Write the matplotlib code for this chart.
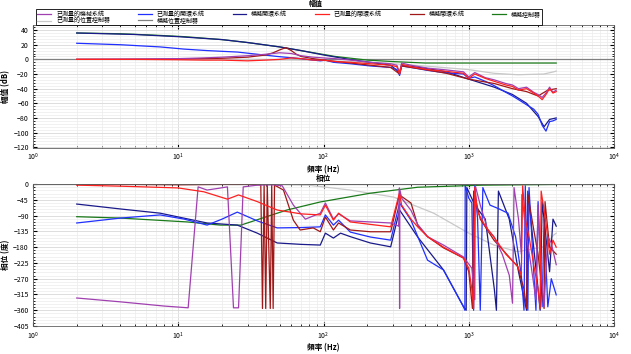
import matplotlib
matplotlib.use('Agg')
import matplotlib.pyplot as plt
from matplotlib.ticker import MultipleLocator, AutoMinorLocator

plt.rcParams['font.family'] = ['Noto Sans CJK TC', 'DejaVu Sans']

# legend names
names = ['已測量的機械系統', '已測量的位置控制器', '已測量的開環系統', '模擬位置控制器',
         '模擬開環系統', '已測量的閉環系統', '模擬閉環系統', '模擬控制器']

# measured mechanical system (purple)
pur_f = [2, 5, 10, 15, 20, 30, 40, 50, 60, 70, 85, 100, 120, 153, 210, 290, 320, 334, 345, 400,
         520, 670, 920, 1000, 1100, 1300, 1500, 1800, 2000, 2200, 2500, 2800, 3000, 3200, 3400,
         3600, 3800, 4000]
pur_m = [0, 0.5, 1, 2, 3, 5, 7, 9, 8, 5, 3, 2, 1, -1, -4, -6, -8, -18, -5, -8,
         -12, -14, -17, -24, -18, -25, -28, -33, -35, -40, -38, -45, -48, -52, -46,
         -38, -45, -42]
purp_f = [2, 4, 8, 11.7, 13.7, 15.8, 19, 21.8, 24, 26, 28, 35, 45, 52, 62, 75, 95, 103, 117,
          127, 153, 210, 290, 330, 333, 334, 335, 345, 400, 445, 520, 670, 920, 1050, 1100,
          1110, 1200, 1350, 1490, 1700, 1900, 2000, 2050, 2200, 2300, 2320, 2500, 2700, 2900,
          3000, 3100, 3300, 3500, 3700, 3850, 4000]
purp_p = [-325, -336, -348, -353, -8, -17, -12, -8, -353, -353, -8, -3, -2, -5, -60, -100,
          -83, -54, -100, -85, -105, -108, -111, -120, -11, -355, -15, -40, -75, -115, -150,
          -174, -208, -240, -330, -5, -60, -130, -150, -200, -260, -340, -10, -100, -200,
          -30, -150, -240, -330, -60, -220, -350, -150, -168, -200, -230]

# measured open loop (blue)
blu_f = [2, 4, 7.5, 11, 15.8, 20, 25.5, 35, 48, 70, 95, 103, 117, 153, 210, 290, 320, 334,
         345, 400, 520, 670, 920, 1000, 1100, 1300, 1500, 1800, 2000, 2200, 2500, 2800, 3000,
         3200, 3400, 3600, 3800, 4000]
blu_m = [22, 20, 17, 14, 12, 11, 10, 7, 4, 1, -2, -1, -4, -6, -9, -11, -14, -22,
         -9, -11, -15, -18, -20, -26, -24, -30, -36, -45, -50, -55, -62, -68, -75,
         -90, -98, -85, -84, -82]
blup_f = [2, 4, 7.5, 11, 15.8, 20, 25.5, 35, 48, 70, 95, 103, 117, 127, 153, 210, 290, 334,
          400, 520, 670, 920, 940, 945, 1000, 1050, 1080, 1100, 1150, 1200, 1250, 1400, 1600,
          1860, 2100, 2170, 2300, 2400, 2450, 2550, 2600, 2800, 2900, 3000, 3200, 3300, 3500,
          3700, 4000]
blup_p = [-111, -97, -88, -100, -117, -100, -80, -105, -125, -124, -122, -88, -117, -103,
          -137, -151, -160, -54, -103, -217, -245, -350, -360, -5, -40, -54, -360, -5, -100,
          -360, -10, -60, -70, -83, -150, -188, -260, -360, -5, -360, -10, -250, -360, -50,
          -350, -100, -350, -270, -316]

# simulated open loop (navy)
nav_f = [2, 5, 10, 20, 30, 50, 70, 100, 150, 210, 290, 334, 345, 500, 700, 1000, 1500,
         2000, 2500, 3000, 3300, 3600, 4000]
nav_m = [36, 34, 31, 27, 23, 17, 12, 6, 0, -4, -8, -18, -8, -12, -17, -27, -38,
         -48, -60, -78, -92, -82, -80]
navp_f = [2, 4, 7.5, 15.8, 25.5, 35, 48, 70, 95, 103, 117, 131, 153, 210, 290, 334, 445,
          670, 920, 960, 970, 1100, 1300, 1500, 1550, 1600, 1900, 2200, 2500, 2550, 3000,
          3100, 3200, 3600, 3800, 4000]
navp_p = [-57, -71, -83, -111, -117, -140, -168, -172, -174, -140, -154, -140, -150, -168,
          -179, -74, -151, -245, -350, -360, -10, -60, -100, -300, -360, -20, -100, -250,
          -360, -20, -300, -360, -50, -250, -100, -120]

# measured closed loop (red)
red_f = pur_f
red_m = [0, 0, -0.5, -1, -1, -2, -1, 0, 2, 1, -1, -1, -3, -4, -6, -8, -10, -20, -7, -10,
         -14, -16, -19, -26, -20, -26, -30, -35, -37, -42, -40, -46, -50, -55, -48,
         -40, -46, -44]
redp_f = [2, 4, 10, 15, 21.8, 26, 35, 48, 70, 95, 103, 117, 127, 153, 210, 290, 333, 345,
          400, 445, 520, 670, 920, 1000, 1050, 1080, 1100, 1150, 1300, 1490, 1800, 2170,
          2300, 2350, 2450, 2600, 2800, 3000, 3100, 3150, 3400, 3600, 3800, 4000]
redp_p = [-3, -6, -11, -22, -43, -31, -50, -74, -85, -88, -60, -103, -83, -108, -115, -122,
          -26, -60, -100, -122, -150, -180, -211, -240, -300, -355, -10, -80, -120, -151,
          -200, -235, -260, -5, -100, -150, -230, -300, -355, -20, -110, -200, -160, -180]

# simulated closed loop (dark red)
drk_f = [2, 5, 10, 20, 30, 40, 45, 50, 55, 60, 65, 70, 85, 100, 153, 210, 290, 334, 345,
         500, 700, 1000, 1500, 2000, 2500, 3000, 3500, 4000]
drk_m = [0, 0, 0.5, 1.5, 3, 6, 9, 13, 16, 12, 7, 4, 1, -1, -5, -8, -11, -20, -9,
         -14, -19, -27, -33, -40, -44, -50, -42, -40]
drkp_f = [2, 5, 10, 19.5, 30, 37, 38, 39, 40, 41, 43, 44, 45, 46, 53, 62, 69, 85, 95, 103,
          117, 127, 153, 210, 290, 333, 400, 445, 520, 670, 920, 1000, 1060, 1080, 1200,
          1490, 2170, 2400, 2500, 2550, 2800, 3000, 3300, 3350, 3600, 4000]
drkp_p = [-1, -1, -2, -1, -1, -2, -355, -1, -355, -2, -355, -1, -355, -3, -17, -103, -131,
          -125, -136, -94, -131, -111, -131, -136, -136, -31, -54, -117, -150, -182, -211,
          -250, -355, -20, -100, -160, -235, -300, -355, -30, -130, -200, -355, -50, -180,
          -200]

# simulated controller (green)
grn_f = [2, 4, 7, 11, 20, 30, 50, 80, 120, 200, 300, 500, 1000, 4000]
grn_m = [36, 35, 33, 31, 27, 23, 17, 10, 4, -1, -3, -5, -5, -5]
grnp_f = [2, 4, 11.5, 19.5, 27, 56, 95, 210, 445, 1260, 4000]
grnp_p = [-93, -97, -108, -117, -117, -74, -51, -26, -9, -3, -1]

# measured position controller (light gray)
lgr_f = [2, 20, 50, 78, 153, 303, 573, 1000, 1490, 2170, 3280, 3850, 4000]
lgr_m = [0, 0, -0.5, -1, -3, -6, -10, -14, -19, -21, -20, -17, -16]
lgr_p = [0, 0, -1, -3, -17, -37, -83, -140, -174, -193, -179, -145, -140]

# simulated position controller (gray)
gry_f = [1, 10000]
gry_m = [0, 0]
gry_p = [0, 0]

col = {'pur': '#a040b0', 'lgr': '#c8c8c8', 'blu': '#2030ff', 'gry': '#808080',
       'nav': '#1a1a8a', 'red': '#ff2020', 'drk': '#a01818', 'grn': '#1a7a1a'}

fig = plt.figure(figsize=(6.31, 3.54), dpi=100)
ax1 = fig.add_axes([0.0523, 0.582, 0.9208, 0.3475])
ax2 = fig.add_axes([0.0523, 0.079, 0.9208, 0.401])

lw = 0.9
h = {}
h['gry'], = ax1.plot(gry_f, gry_m, color=col['gry'], lw=lw)
h['lgr'], = ax1.plot(lgr_f, lgr_m, color=col['lgr'], lw=lw)
h['grn'], = ax1.plot(grn_f, grn_m, color=col['grn'], lw=lw)
h['nav'], = ax1.plot(nav_f, nav_m, color=col['nav'], lw=lw)
h['blu'], = ax1.plot(blu_f, blu_m, color=col['blu'], lw=lw)
h['drk'], = ax1.plot(drk_f, drk_m, color=col['drk'], lw=lw)
h['pur'], = ax1.plot(pur_f, pur_m, color=col['pur'], lw=lw)
h['red'], = ax1.plot(red_f, red_m, color=col['red'], lw=lw)

ax2.plot(gry_f, gry_p, color=col['gry'], lw=lw)
ax2.plot(lgr_f, lgr_p, color=col['lgr'], lw=lw)
ax2.plot(grnp_f, grnp_p, color=col['grn'], lw=lw)
ax2.plot(navp_f, navp_p, color=col['nav'], lw=lw)
ax2.plot(blup_f, blup_p, color=col['blu'], lw=lw)
ax2.plot(drkp_f, drkp_p, color=col['drk'], lw=lw)
ax2.plot(purp_f, purp_p, color=col['pur'], lw=lw)
ax2.plot(redp_f, redp_p, color=col['red'], lw=lw)

for ax in (ax1, ax2):
    ax.set_xscale('log')
    ax.set_xlim(1, 1e4)
    ax.grid(True, which='major', color='#d8d8d8', lw=0.6)
    ax.grid(True, which='minor', color='#ececec', lw=0.5)
    ax.tick_params(which='both', direction='in', top=True, right=True, labelsize=5, pad=3)
    ax.tick_params(which='major', length=3)
    ax.tick_params(which='minor', length=1.5)
    for s in ax.spines.values():
        s.set_color('#606060')
        s.set_linewidth(0.6)
    ax.set_xlabel('頻率 (Hz)', fontsize=5.5, fontweight='bold', labelpad=1)

ax1.set_ylim(-121, 47)
ax1.yaxis.set_major_locator(MultipleLocator(20))
ax1.yaxis.set_minor_locator(AutoMinorLocator(5))
ax1.set_ylabel('幅值 (dB)', fontsize=5.5, fontweight='bold', labelpad=2)

ax2.set_ylim(-405, 0)
ax2.yaxis.set_major_locator(MultipleLocator(45))
ax2.yaxis.set_minor_locator(AutoMinorLocator(5))
ax2.set_ylabel('相位 (度)', fontsize=5.5, fontweight='bold', labelpad=2)
ax2.set_title('相位', fontsize=5.5, fontweight='bold', pad=2)

order = ['pur', 'lgr', 'blu', 'gry', 'nav', 'red', 'drk', 'grn']
leg = fig.legend([h[k] for k in order], names, loc='upper left',
                 bbox_to_anchor=(0.0523, 0.982), ncol=6, fontsize=4.3,
                 frameon=True, fancybox=False, edgecolor='black', framealpha=1,
                 handlelength=2.3, columnspacing=4.7, borderpad=0.25, labelspacing=0.05,
                 handletextpad=0.8)
leg.get_frame().set_linewidth(0.6)

# top title sits over the legend box
fig.text(0.5, 1.0, '幅值', ha='center', va='top', fontsize=5, fontweight='bold',
         zorder=10)

fig.savefig('out.png', dpi=100)
